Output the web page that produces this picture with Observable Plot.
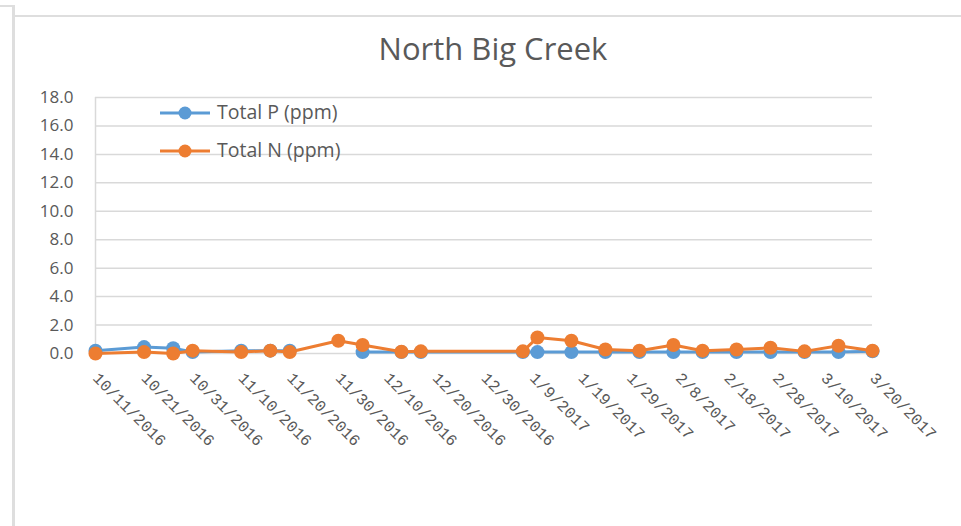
<!DOCTYPE html>
<html>
<head>
<meta charset="utf-8">
<script src="https://cdn.jsdelivr.net/npm/d3@7"></script>
<script src="https://cdn.jsdelivr.net/npm/@observablehq/plot@0.6"></script>
<style>
  html, body { margin: 0; padding: 0; background: #fff; overflow: hidden; }
  #wrap { position: relative; width: 961px; height: 526px; }
  #title { position: absolute; left: 0; width: 986px; top: 28px; text-align: center;
           font-family: "Open Sans", sans-serif; font-size: 31px; color: #595959; line-height: 40px; }
  .frame { position: absolute; background: #dedede; }
  #legend { position: absolute; left: 158px; top: 100px; font-family: "Open Sans", sans-serif;
            font-size: 19.5px; color: #595959; }
  #legend .item { position: absolute; left: 0; height: 26px; white-space: nowrap; }
  #legend svg { position: absolute; left: 0; top: 0; }
  #legend span { position: absolute; left: 59px; top: -1px; line-height: 26px; }
  #chart { position: absolute; left: 0; top: 0; }
</style>
</head>
<body>
<div id="wrap">
  <div class="frame" style="left:12px; top:5px; width:3px; height:521px;"></div>
  <div class="frame" style="left:15px; top:15px; width:946px; height:2px;"></div>
  <div class="frame" style="left:0px; top:5px; width:12px; height:2px;"></div>
  <div id="chart"></div>
  <div id="title">North Big Creek</div>
  <div id="legend"></div>
</div>
<script>
// ---- data ----
const sampleDates = ["10/11/2016","10/21/2016","10/27/2016","10/31/2016","11/10/2016","11/16/2016","11/20/2016","11/30/2016","12/5/2016","12/13/2016","12/17/2016","1/7/2017","1/10/2017","1/17/2017","1/24/2017","1/31/2017","2/7/2017","2/13/2017","2/20/2017","2/27/2017","3/6/2017","3/13/2017","3/20/2017"];
const totalP = [0.2, 0.45, 0.37, 0.1, 0.2, 0.2, 0.2, null, 0.1, 0.1, 0.1, 0.1, 0.1, 0.1, 0.1, 0.1, 0.1, 0.1, 0.1, 0.1, 0.1, 0.1, 0.15];
const totalN = [0.0, 0.1, 0.0, 0.2, 0.1, 0.2, 0.1, 0.9, 0.6, 0.12, 0.15, 0.15, 1.12, 0.9, 0.28, 0.2, 0.6, 0.2, 0.28, 0.4, 0.15, 0.55, 0.2];
const seriesNames = ["Total P (ppm)", "Total N (ppm)"];
const seriesColors = ["#5B9BD5", "#ED7D31"];
const xTickLabels = ["10/11/2016","10/21/2016","10/31/2016","11/10/2016","11/20/2016","11/30/2016","12/10/2016","12/20/2016","12/30/2016","1/9/2017","1/19/2017","1/29/2017","2/8/2017","2/18/2017","2/28/2017","3/10/2017","3/20/2017"];
const yTicks = [0, 2, 4, 6, 8, 10, 12, 14, 16, 18];

const parse = d3.utcParse("%m/%d/%Y");
const fmt = d3.utcFormat("%-m/%-d/%Y");
const rowsP = sampleDates.map((d, i) => ({date: parse(d), v: totalP[i]}));
const rowsN = sampleDates.map((d, i) => ({date: parse(d), v: totalN[i]}));
const xTicks = xTickLabels.map(parse);

const chart = Plot.plot({
  width: 961,
  height: 526,
  marginLeft: 95,
  marginRight: 89,
  marginTop: 97,
  marginBottom: 173,
  style: {background: "transparent", overflow: "visible"},
  x: {type: "utc", domain: [xTicks[0], xTicks[xTicks.length - 1]]},
  y: {domain: [0, 18]},
  marks: [
    Plot.gridY(yTicks, {stroke: "#d9d9d9", strokeOpacity: 1, strokeWidth: 1.5}),
    Plot.ruleX([xTicks[0]], {stroke: "#d9d9d9", strokeWidth: 1.5}),
    Plot.axisY(yTicks, {tickSize: 0, tickPadding: 22, tickFormat: d => d.toFixed(1), label: null,
      fontSize: 17, fontFamily: "Open Sans", fill: "#595959"}),
    Plot.axisX(xTicks, {tickSize: 0, tickPadding: 22, tickRotate: 45, tickFormat: fmt, label: null,
      fontSize: 16, fontFamily: "Liberation Mono", fill: "#595959"}),
    Plot.lineY(rowsP, {x: "date", y: "v", stroke: seriesColors[0], strokeWidth: 3}),
    Plot.dot(rowsP, {x: "date", y: "v", fill: seriesColors[0], r: 7}),
    Plot.lineY(rowsN, {x: "date", y: "v", stroke: seriesColors[1], strokeWidth: 3}),
    Plot.dot(rowsN, {x: "date", y: "v", fill: seriesColors[1], r: 7})
  ]
});
document.getElementById("chart").appendChild(chart);

// legend
const legend = document.getElementById("legend");
seriesNames.forEach((name, i) => {
  const item = document.createElement("div");
  item.className = "item";
  item.style.top = (i * 38) + "px";
  item.innerHTML = `<svg width="56" height="26"><line x1="2" x2="52" y1="13" y2="13" stroke="${seriesColors[i]}" stroke-width="3"/><circle cx="27" cy="13" r="6.5" fill="${seriesColors[i]}"/></svg><span>${name}</span>`;
  legend.appendChild(item);
});
</script>
</body>
</html>
